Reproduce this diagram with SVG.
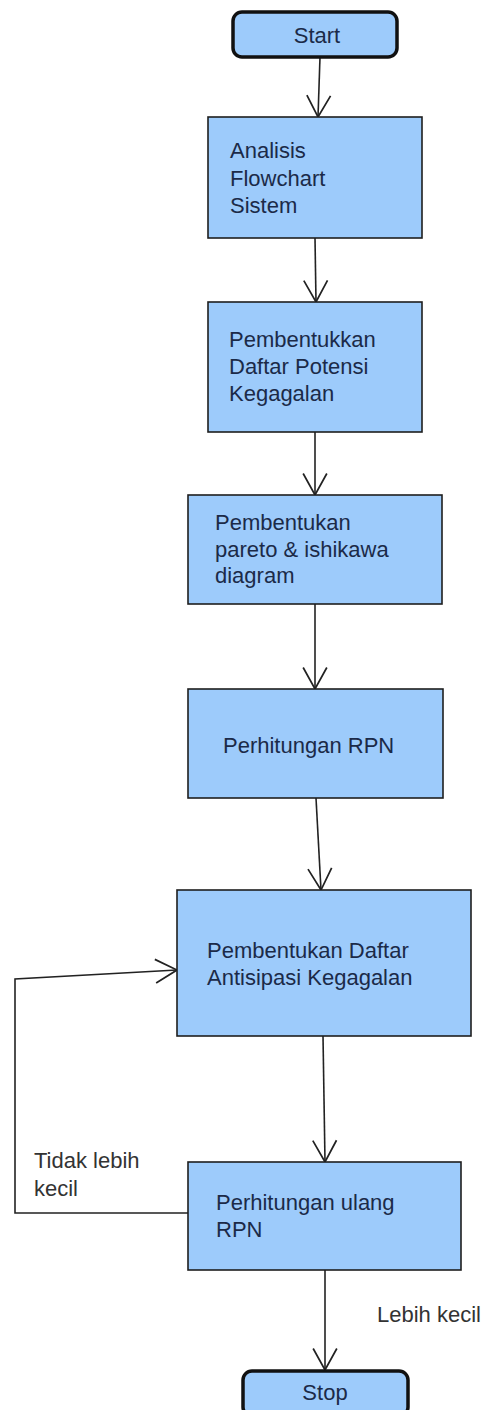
<svg xmlns="http://www.w3.org/2000/svg" width="487" height="1410" viewBox="0 0 487 1410">
<style>
.box{fill:#9dcbfb;stroke:#1e1e1e;stroke-width:1.6}
.term{fill:#9dcbfb;stroke:#111;stroke-width:3.5}
.t{font-family:"Liberation Sans",Arial,sans-serif;font-size:22px;fill:#1b2a48}
.lbl{font-family:"Liberation Sans",Arial,sans-serif;font-size:22px;fill:#333}
.c{fill:none;stroke:#222;stroke-width:1.6}
</style>
<defs>
<marker id="ah" markerUnits="userSpaceOnUse" markerWidth="26" markerHeight="28" viewBox="-22 -13 24 26" refX="0" refY="0" orient="auto" overflow="visible">
<path d="M-20,-11 L0,0 L-20,11" fill="none" stroke="#222" stroke-width="1.6"/>
</marker>
</defs>
<rect width="487" height="1410" fill="#fff"/>
<g id="connectors">
<path class="c" d="M320,57 L318,117" marker-end="url(#ah)"/>
<path class="c" d="M315,238 L316,302" marker-end="url(#ah)"/>
<path class="c" d="M315,432 L315,495" marker-end="url(#ah)"/>
<path class="c" d="M315,604 L315,689" marker-end="url(#ah)"/>
<path class="c" d="M316,798 L321,890" marker-end="url(#ah)"/>
<path class="c" d="M323,1036 L325,1162" marker-end="url(#ah)"/>
<path class="c" d="M188,1213 L15,1213 L15,979 L177,970" marker-end="url(#ah)"/>
<path class="c" d="M325,1270 L325,1370" marker-end="url(#ah)"/>
</g>
<g id="start">
<rect class="term" x="233" y="12" width="164" height="45" rx="9"/>
<text class="t" x="317" y="43" text-anchor="middle">Start</text>
</g>
<g id="analisis">
<rect class="box" x="208" y="117" width="214" height="121"/>
<text class="t" x="230" y="158">Analisis</text>
<text class="t" x="230" y="186">Flowchart</text>
<text class="t" x="230" y="213">Sistem</text>
</g>
<g id="potensi">
<rect class="box" x="208" y="302" width="214" height="130"/>
<text class="t" x="229" y="347">Pembentukkan</text>
<text class="t" x="229" y="374">Daftar Potensi</text>
<text class="t" x="229" y="401">Kegagalan</text>
</g>
<g id="pareto">
<rect class="box" x="188" y="495" width="254" height="109"/>
<text class="t" x="215" y="530">Pembentukan</text>
<text class="t" x="215" y="557">pareto &amp; ishikawa</text>
<text class="t" x="215" y="583">diagram</text>
</g>
<g id="rpn">
<rect class="box" x="188" y="689" width="255" height="109"/>
<text class="t" x="223" y="753">Perhitungan RPN</text>
</g>
<g id="antisipasi">
<rect class="box" x="177" y="890" width="294" height="146"/>
<text class="t" x="207" y="958">Pembentukan Daftar</text>
<text class="t" x="207" y="985">Antisipasi Kegagalan</text>
</g>
<g id="ulang">
<rect class="box" x="188" y="1162" width="273" height="108"/>
<text class="t" x="216" y="1210">Perhitungan ulang</text>
<text class="t" x="216" y="1237">RPN</text>
</g>
<g id="stop">
<rect class="term" x="243" y="1371" width="165" height="45" rx="9"/>
<text class="t" x="325" y="1400" text-anchor="middle">Stop</text>
</g>
<g id="labels">
<text class="lbl" x="34" y="1168">Tidak lebih</text>
<text class="lbl" x="34" y="1196">kecil</text>
<text class="lbl" x="377" y="1322">Lebih kecil</text>
</g>
</svg>
